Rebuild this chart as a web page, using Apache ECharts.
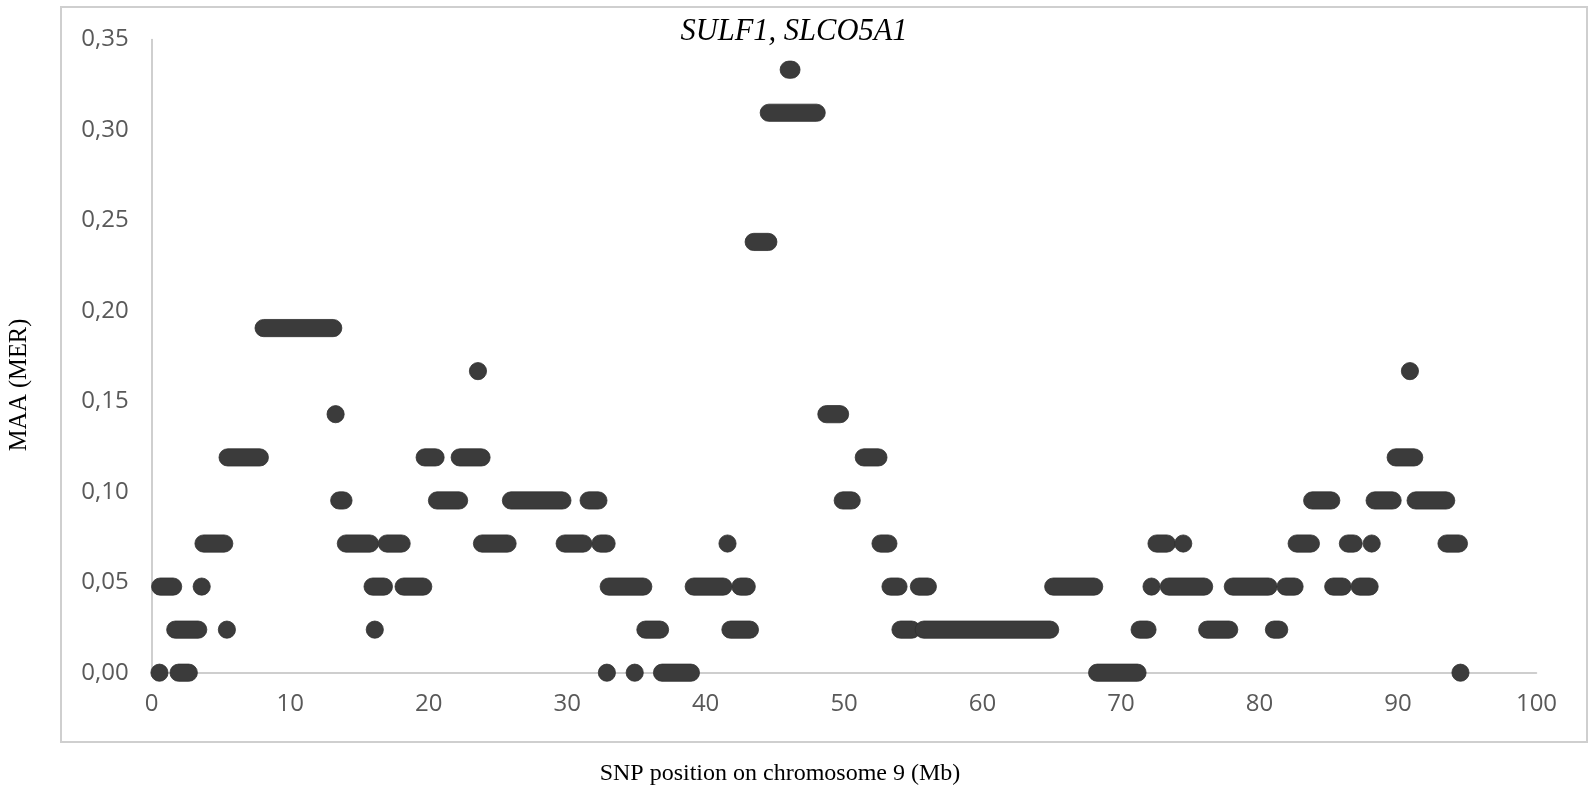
<!DOCTYPE html>
<html>
<head>
<meta charset="utf-8">
<script src="https://cdn.jsdelivr.net/npm/echarts@6/dist/echarts.min.js"></script>
<style>
html,body{margin:0;padding:0;background:#fff;}
#chart{width:1595px;height:800px;}
</style>
</head>
<body>
<div id="chart"></div>
<script>
// Runs of SNPs (start Mb, end Mb, MAA value)
const segStart = [
  8.08, 23.56, 13.28,
  5.48, 19.71, 22.24,
  13.54, 20.6, 25.94, 31.55, 49.9,
  3.74, 14.02, 16.98, 23.85, 29.82, 32.4, 41.58, 52.63,
  0.61, 3.61, 15.95, 18.19, 33.0, 39.14, 42.51, 53.35, 55.4,
  1.70, 5.43, 16.11, 35.65, 41.79, 54.07, 55.75,
  0.56, 1.94, 32.87, 34.88, 36.85,
  48.72, 51.42, 43.47, 44.56, 46.0,
  65.1, 72.2, 73.45, 78.07, 81.88, 85.32, 87.23,
  71.34, 76.22, 81.04,
  68.27, 94.51,
  72.56, 74.49, 82.68, 86.38, 88.1, 93.5,
  83.8, 88.31, 91.27,
  89.83, 90.86
];
const segEnd = [
  13.11, 23.56, 13.28,
  7.81, 20.50, 23.82,
  13.85, 22.2, 29.66, 32.26, 50.55,
  5.24, 15.76, 18.05, 25.7, 31.17, 32.85, 41.58, 53.2,
  1.55, 3.61, 16.77, 19.61, 35.5, 41.28, 42.97, 53.93, 56.05,
  3.36, 5.43, 16.11, 36.71, 43.2, 54.89, 64.88,
  0.56, 2.68, 32.87, 34.88, 38.94,
  49.71, 52.48, 44.53, 48.02, 46.2,
  68.06, 72.2, 76.0, 80.65, 82.53, 86.0, 87.95,
  71.91, 77.81, 81.42,
  71.19, 94.51,
  73.31, 74.49, 83.71, 86.8, 88.1, 94.4,
  85.18, 89.61, 93.48,
  91.17, 90.86
];
const segMAA = [
  0.1905, 0.1667, 0.1429,
  0.1190, 0.1190, 0.1190,
  0.0952, 0.0952, 0.0952, 0.0952, 0.0952,
  0.0714, 0.0714, 0.0714, 0.0714, 0.0714, 0.0714, 0.0714, 0.0714,
  0.0476, 0.0476, 0.0476, 0.0476, 0.0476, 0.0476, 0.0476, 0.0476, 0.0476,
  0.0238, 0.0238, 0.0238, 0.0238, 0.0238, 0.0238, 0.0238,
  0, 0, 0, 0, 0,
  0.1429, 0.1190, 0.2381, 0.3095, 0.3333,
  0.0476, 0.0476, 0.0476, 0.0476, 0.0476, 0.0476, 0.0476,
  0.0238, 0.0238, 0.0238,
  0, 0,
  0.0714, 0.0714, 0.0714, 0.0714, 0.0714, 0.0714,
  0.0952, 0.0952, 0.0952,
  0.1190, 0.1667
];
const xTicks = {min: 0, max: 100, interval: 10};
const yTicks = {min: 0, max: 0.35, interval: 0.05};
const titleText = 'SULF1, SLCO5A1';
const xTitle = 'SNP position on chromosome 9 (Mb)';
const yTitle = 'MAA (MER)';

const data = segStart.map((s, i) => [s, segEnd[i], segMAA[i]]);
const R = 8.6;

const chart = echarts.init(document.getElementById('chart'), null, {renderer: 'canvas'});
chart.setOption({
  animation: false,
  backgroundColor: '#fff',
  grid: {left: 151.7, right: 58.5, top: 39.5, bottom: 127.3, containLabel: false},
  xAxis: {
    type: 'value', min: xTicks.min, max: xTicks.max, interval: xTicks.interval,
    axisLine: {show: true, lineStyle: {color: '#bfbfbf', width: 1.5}},
    axisTick: {show: false},
    splitLine: {show: false},
    axisLabel: {color: '#595959', fontFamily: 'Open Sans', fontSize: 24, margin: 19}
  },
  yAxis: {
    type: 'value', min: yTicks.min, max: yTicks.max, interval: yTicks.interval,
    axisLine: {show: true, lineStyle: {color: '#bfbfbf', width: 1.5}},
    axisTick: {show: false},
    splitLine: {show: false},
    axisLabel: {color: '#595959', fontFamily: 'Open Sans', fontSize: 24, margin: 23,
      formatter: v => v.toFixed(2).replace('.', ',')}
  },
  graphic: [
    {type: 'rect', silent: true, z: -1,
     shape: {x: 61, y: 7, width: 1526, height: 735},
     style: {fill: 'none', stroke: '#cfcfcf', lineWidth: 2}},
    {type: 'text', x: 794, y: 32,
     style: {text: titleText, fontFamily: 'Liberation Serif', fontStyle: 'italic', fontSize: 30.5,
       fill: '#000', align: 'center', verticalAlign: 'middle'}},
    {type: 'text', x: 780, y: 774,
     style: {text: xTitle, fontFamily: 'Liberation Serif', fontSize: 24,
       fill: '#000', align: 'center', verticalAlign: 'middle'}},
    {type: 'text', x: 20, y: 385, rotation: Math.PI / 2,
     style: {text: yTitle, fontFamily: 'Liberation Serif', fontSize: 24.5,
       fill: '#000', align: 'center', verticalAlign: 'middle'}}
  ],
  series: [{
    type: 'custom',
    data: data,
    encode: {x: [0, 1], y: 2},
    clip: false,
    renderItem: function (params, api) {
      const s = api.coord([api.value(0), api.value(2)]);
      const e = api.coord([api.value(1), api.value(2)]);
      return {
        type: 'rect',
        shape: {x: s[0] - R, y: s[1] - R, width: e[0] - s[0] + 2 * R, height: 2 * R, r: R},
        style: {fill: '#3b3b3b', stroke: '#303030', lineWidth: 0.8}
      };
    }
  }]
});
</script>
</body>
</html>
